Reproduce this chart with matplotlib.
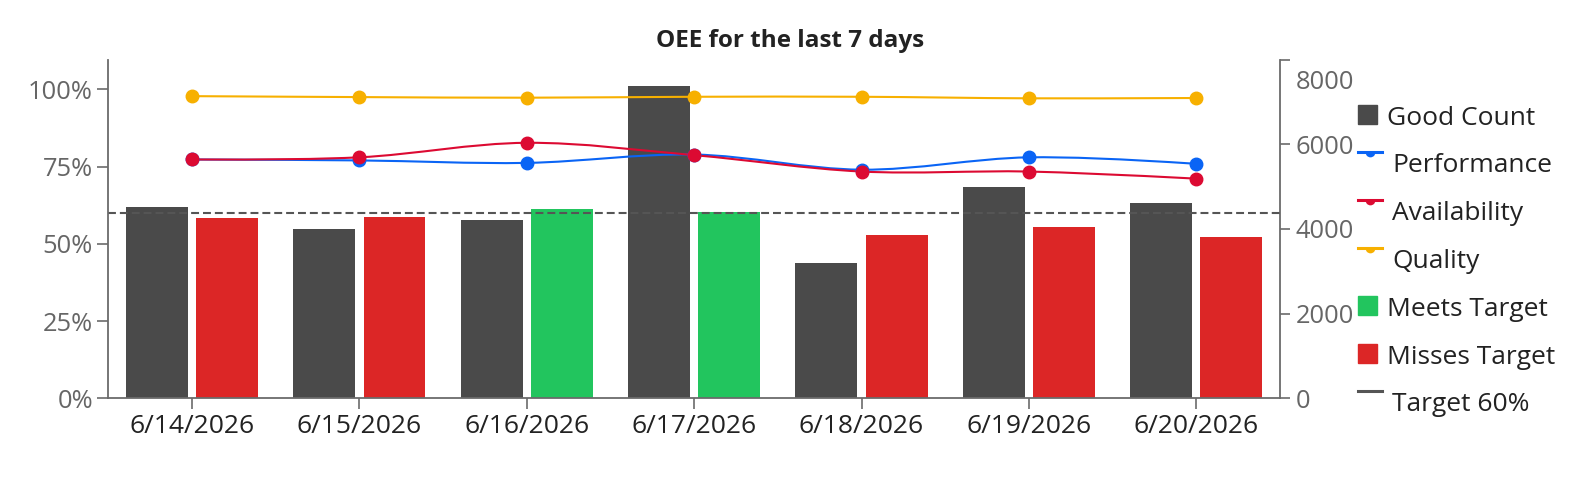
import numpy as np
import matplotlib
matplotlib.use("Agg")
import matplotlib.pyplot as plt
from matplotlib.path import Path
from matplotlib.patches import PathPatch, Rectangle
from matplotlib.lines import Line2D
from matplotlib.transforms import offset_copy

plt.rcParams['font.family'] = ['Open Sans', 'DejaVu Sans']

# data
dates = ['6/14/2026', '6/15/2026', '6/16/2026', '6/17/2026', '6/18/2026', '6/19/2026', '6/20/2026']
good_count = [4510, 3995, 4215, 7375, 3185, 4985, 4605]
oee = [58.3, 58.6, 61.2, 60.2, 52.8, 55.4, 52.3]
performance = [77.3, 77.0, 76.2, 78.9, 74.0, 78.0, 75.9]
availability = [77.3, 78.0, 82.7, 78.7, 73.4, 73.4, 71.1]
quality = [97.8, 97.5, 97.3, 97.6, 97.6, 97.1, 97.2]
target = 60
pct_ticks = [0, 25, 50, 75, 100]
count_ticks = [0, 2000, 4000, 6000, 8000]

GRAY = '#4a4a4a'
RED = '#dc2626'
GREEN = '#22c55e'
BLUE = '#0a64f5'
CRIMSON = '#dc0a32'
AMBER = '#f7b000'
AXIS = '#6b6b6b'
FS = 18.4
FS_BIG = 19

W, H = 1580, 484
fig = plt.figure(figsize=(W / 100, H / 100), dpi=100)
ax = fig.add_axes([108.3 / W, 1 - 398.3 / H, (1280 - 108.3) / W, (398.3 - 59.7) / H])
ax2 = ax.twinx()
ax.set_zorder(ax2.get_zorder() + 1)
ax.patch.set_visible(False)

x = np.arange(len(dates))
bw = 0.37
off = 0.21

# Good Count on the right axis
ax2.bar(x - off, good_count, width=bw, color=GRAY)

# OEE bars on the left axis
oee_colors = [GREEN if v >= target else RED for v in oee]
ax.bar(x + off, oee, width=bw, color=oee_colors, zorder=2)
ax.axhline(target, color='#555555', lw=1.5, ls=(0, (3.8, 1.9)), zorder=2.5)

ax.set_xlim(-0.5, len(dates) - 0.5)
ax.set_ylim(0, 109.6)
ax2.set_ylim(0, 8000)


def spline_path(ax, xs, ys):
    # plotly style smoothed path, worked out in pixel space
    pts = ax.transData.transform(np.column_stack([xs, ys]))

    def tangent(p0, p1, p2):
        d1 = p0 - p1
        d2 = p2 - p1
        d1a = np.hypot(*d1) ** 0.5
        d2a = np.hypot(*d2) ** 0.5
        num = d2a * d2a * d1 - d1a * d1a * d2
        return p1 + num / (3 * d2a * (d1a + d2a)), p1 - num / (3 * d1a * (d1a + d2a))

    tans = [tangent(pts[i - 1], pts[i], pts[i + 1]) for i in range(1, len(pts) - 1)]
    verts = [pts[0], tans[0][0], pts[1]]
    codes = [Path.MOVETO, Path.CURVE3, Path.CURVE3]
    for i in range(2, len(pts) - 1):
        verts += [tans[i - 2][1], tans[i - 1][0], pts[i]]
        codes += [Path.CURVE4] * 3
    verts += [tans[-1][1], pts[-1]]
    codes += [Path.CURVE3] * 2
    return Path(ax.transData.inverted().transform(np.array(verts)), codes)


for vals, col in [(performance, BLUE), (availability, CRIMSON), (quality, AMBER)]:
    ax.add_patch(PathPatch(spline_path(ax, x, vals), facecolor='none', edgecolor=col, lw=1.5, zorder=3))
    ax.plot(x, vals, 'o', ms=9, color=col, mec=col, zorder=4)

# axes styling
ax.set_xticks(x)
ax.set_xticklabels(dates)
ax.set_yticks(pct_ticks)
ax.set_yticklabels([f'{t}%' for t in pct_ticks])
ax2.set_yticks(count_ticks)
ax2.set_yticklabels([str(t) for t in count_ticks])

for a in (ax, ax2):
    a.spines['top'].set_visible(False)
    for s in a.spines.values():
        s.set_color(AXIS)
        s.set_linewidth(1.3)
ax.spines['right'].set_visible(False)
ax2.spines['left'].set_visible(False)
ax2.spines['bottom'].set_visible(False)

ax.tick_params(axis='x', length=8, width=1.2, color=AXIS, pad=3, labelsize=FS_BIG, labelcolor='#222222')
ax.tick_params(axis='y', length=8, width=1.2, color=AXIS, pad=3, labelsize=FS, labelcolor='#666666')
ax2.tick_params(axis='y', length=7, width=1.2, color=AXIS, pad=4, labelsize=FS, labelcolor='#666666')

# top label on the right axis sits lower in the original
lab = ax2.get_yticklabels()[-1]
lab.set_transform(offset_copy(lab.get_transform(), fig=fig, x=0, y=-14, units='points'))

fig.text(790 / W, 1 - 41 / H, 'OEE for the last 7 days', ha='center', va='center',
         fontsize=17.5, fontweight='bold', color='#222222')

# legend, drawn by hand to match the original layout
legend_items = [
    ('Good Count', 'box', GRAY),
    ('Performance', 'line', BLUE),
    ('Availability', 'line', CRIMSON),
    ('Quality', 'line', AMBER),
    ('Meets Target', 'box', GREEN),
    ('Misses Target', 'box', RED),
    ('Target 60%', 'plain', '#555555'),
]
for i, (name, kind, col) in enumerate(legend_items):
    base = 124.7 + 47.8 * i
    if kind == 'box':
        fig.add_artist(Rectangle((1358 / W, 1 - (base - 0.5) / H), 19 / W, 19 / H,
                                 transform=fig.transFigure, color=col))
        tx = 1386.7
    else:
        ly = 1 - (base - 20.5) / H
        fig.add_artist(Line2D([1358 / W, 1382 / W], [ly, ly], transform=fig.transFigure,
                              color=col, lw=2.2))
        if kind == 'line':
            fig.add_artist(Line2D([1370 / W], [ly], transform=fig.transFigure, marker='o',
                                  ms=7, fillstyle='bottom', markerfacecoloralt='none',
                                  mfc=col, mew=0, linestyle='none'))
        tx = 1392
    fig.text(tx / W, 1 - base / H, name, ha='left', va='baseline', fontsize=FS_BIG, color='#222222')

fig.savefig('out.png', dpi=100)
